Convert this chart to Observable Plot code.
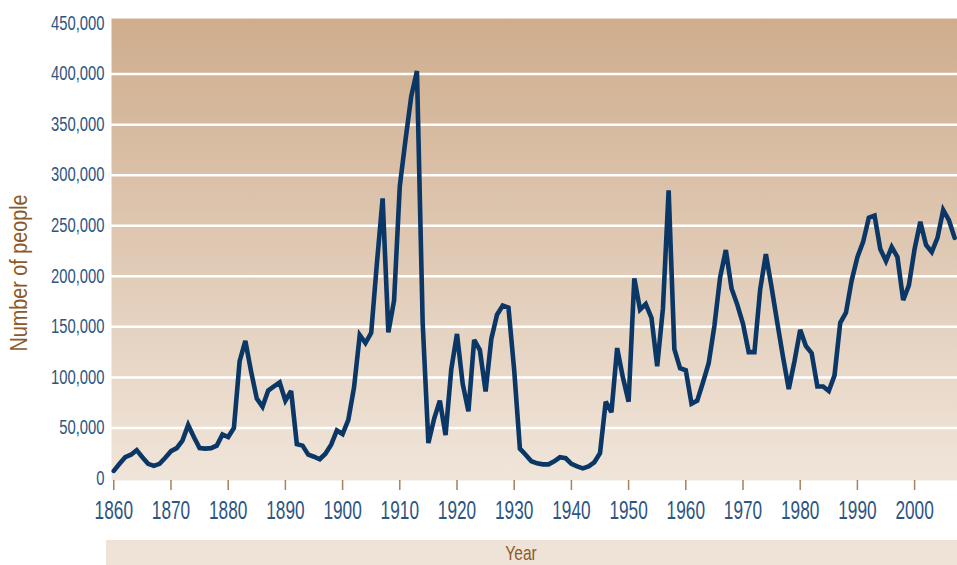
<!DOCTYPE html>
<html>
<head>
<meta charset="utf-8">
<script src="https://cdn.jsdelivr.net/npm/d3@7"></script>
<script src="https://cdn.jsdelivr.net/npm/@observablehq/plot@0.6"></script>
<style>
  body { margin: 0; background: #fff; width: 957px; height: 565px; overflow: hidden; position: relative;
         font-family: "Liberation Sans", Arial, sans-serif; }
  #chart { position: absolute; left: 0; top: 0; }
  #band { position: absolute; left: 106px; top: 540px; width: 851px; height: 25px; background: #efe3d8; }
  #band span { position: absolute; left: 415px; top: 0; line-height: 25px; transform: translateX(-50%) scaleX(0.74);
               font-size: 21px; color: #8c5a2a; white-space: nowrap; }
</style>
</head>
<body>
<div id="chart"></div>
<div id="band"><span>Year</span></div>
<script>
const years = [
  1860,1861,1862,1863,1864,1865,1866,1867,1868,1869,
  1870,1871,1872,1873,1874,1875,1876,1877,1878,1879,
  1880,1881,1882,1883,1884,1885,1886,1887,1888,1889,
  1890,1891,1892,1893,1894,1895,1896,1897,1898,1899,
  1900,1901,1902,1903,1904,1905,1906,1907,1908,1909,
  1910,1911,1912,1913,1914,1915,1916,1917,1918,1919,
  1920,1921,1922,1923,1924,1925,1926,1927,1928,1929,
  1930,1931,1932,1933,1934,1935,1936,1937,1938,1939,
  1940,1941,1942,1943,1944,1945,1946,1947,1948,1949,
  1950,1951,1952,1953,1954,1955,1956,1957,1958,1959,
  1960,1961,1962,1963,1964,1965,1966,1967,1968,1969,
  1970,1971,1972,1973,1974,1975,1976,1977,1978,1979,
  1980,1981,1982,1983,1984,1985,1986,1987,1988,1989,
  1990,1991,1992,1993,1994,1995,1996,1997,1998,1999,
  2000,2001,2002,2003,2004,2005,2006,2007
];
const people = [
  7500,14500,21000,23500,28000,21000,14500,12500,14500,20500,
  27000,30000,37500,53000,41000,30000,29500,30000,32500,43500,
  41000,50000,116000,136000,106000,79000,71000,87000,91000,95000,
  77000,86500,34000,32500,23500,21500,19000,24500,33500,47500,
  44000,58000,90000,142000,134000,144000,213000,277000,144500,176000,
  289000,335000,378000,403000,154000,35000,59000,77000,43000,108000,
  143000,93500,66500,137000,127000,86000,138000,162000,171000,169000,
  107000,29500,23500,17000,15000,14000,14000,17000,21000,20000,
  14500,12000,10000,12000,16000,25000,76000,65500,129000,100000,
  76000,198000,167000,172500,159000,111000,168000,285000,128000,109000,
  107000,74000,77000,95000,114000,151000,199000,226000,188000,172000,
  153000,125000,125000,187000,222000,189000,154000,120000,88500,116000,
  147000,131000,124000,91000,91000,86500,102000,154000,164000,196000,
  219000,234000,258000,260000,227000,215000,229000,219000,176500,191000,
  227000,254000,231000,224000,238000,265500,255500,238000
];
const xTicks = [1860,1870,1880,1890,1900,1910,1920,1930,1940,1950,1960,1970,1980,1990,2000];
const yTicks = [0,50000,100000,150000,200000,250000,300000,350000,400000,450000];
const gridValues = [50000,100000,150000,200000,250000,300000,350000,400000];
const yLabel = "Number of people";

const data = years.map((year, i) => ({year, people: people[i]}));

const gradient = () => {
  const defs = d3.create("svg:defs");
  const g = defs.append("linearGradient").attr("id", "bg").attr("x1", 0).attr("y1", 0).attr("x2", 0).attr("y2", 1);
  g.append("stop").attr("offset", "0%").attr("stop-color", "#cfad8d");
  g.append("stop").attr("offset", "100%").attr("stop-color", "#f0e5da");
  return defs.node();
};

const plot = Plot.plot({
  width: 957,
  height: 535,
  marginLeft: 111,
  marginRight: 0,
  marginTop: 18,
  marginBottom: 55,
  style: {fontFamily: '"Liberation Sans", Arial, sans-serif', background: "transparent", overflow: "visible"},
  x: {domain: [1859.6, 2007.5]},
  y: {domain: [-2000, 455000]},
  marks: [
    gradient,
    Plot.frame({fill: "url(#bg)", stroke: "none"}),
    Plot.ruleY(gridValues, {stroke: "white", strokeWidth: 2.5}),
    Plot.line(data, {x: "year", y: "people", stroke: "#0b3766", strokeWidth: 4.6, strokeLinejoin: "miter", strokeMiterlimit: 3}),
    Plot.axisY(yTicks, {tickSize: 0, tickPadding: 7, fontSize: 19.5, fill: "#2d5582", tickFormat: d3.format(","), label: null}),
    Plot.axisX(xTicks, {tickSize: 10, tickPadding: 11, fontSize: 25, stroke: "#a8805a", strokeWidth: 1.5, fill: "#2d5582", tickFormat: "d", label: null})
  ]
});

document.getElementById("chart").append(plot);

// Condense tick labels horizontally around their anchor (right edge for y, centre for x),
// independent of how Plot positions the text elements internally.
function squeeze(texts, s, anchor) {
  texts.forEach(t => {
    const parent = t.parentNode;
    const r = t.getBoundingClientRect();
    const sx = anchor === "end" ? r.right : (r.left + r.right) / 2;
    const pt = plot.createSVGPoint();
    pt.x = sx; pt.y = (r.top + r.bottom) / 2;
    const p = pt.matrixTransform(parent.getScreenCTM().inverse());
    const g = document.createElementNS("http://www.w3.org/2000/svg", "g");
    g.setAttribute("transform", `translate(${p.x},0) scale(${s},1) translate(${-p.x},0)`);
    parent.insertBefore(g, t);
    g.appendChild(t);
  });
}
const yTexts = Array.from(plot.querySelectorAll('[aria-label="y-axis tick label"] text'));
const xTexts = Array.from(plot.querySelectorAll('[aria-label="x-axis tick label"] text'));
squeeze(yTexts, 0.76, "end");
squeeze(xTexts, 0.69, "middle");

d3.select(plot).append("text")
  .attr("transform", "translate(27,273) rotate(-90) scale(0.86,1)")
  .attr("text-anchor", "middle")
  .attr("font-size", 23)
  .attr("fill", "#8c5a2a")
  .text(yLabel);
</script>
</body>
</html>
